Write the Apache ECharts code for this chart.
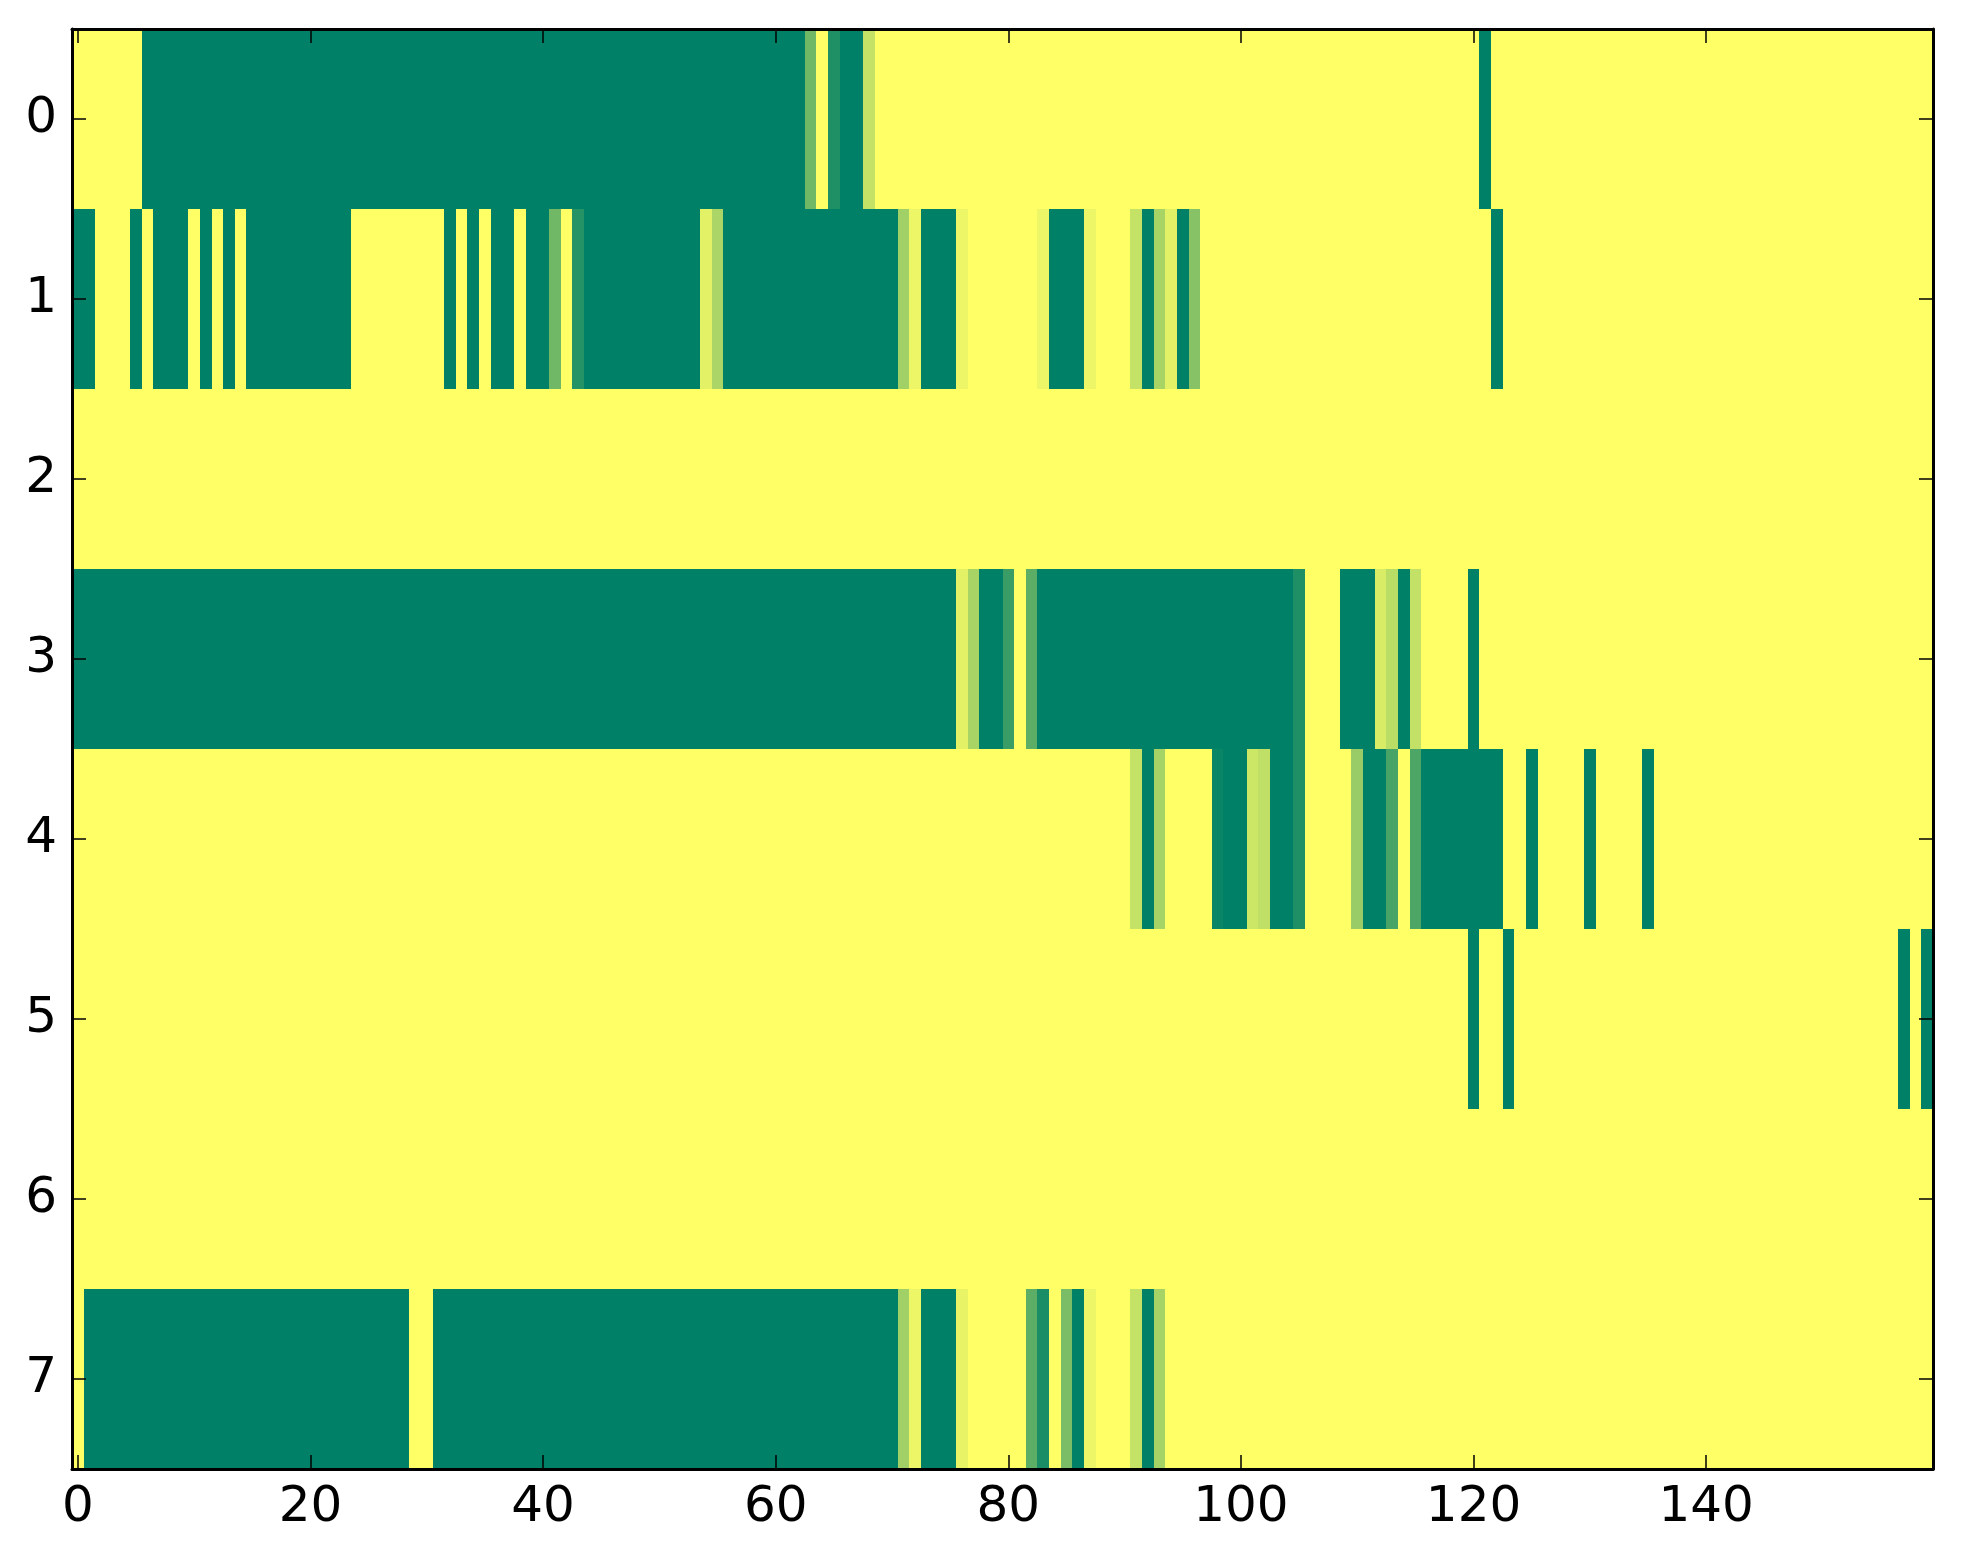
<!DOCTYPE html>
<html>
<head>
<meta charset="utf-8">
<script src="https://cdn.jsdelivr.net/npm/echarts@6/dist/echarts.min.js"></script>
<style>
  html, body { margin: 0; padding: 0; background: #ffffff; }
  #chart { width: 1963px; height: 1564px; }
</style>
</head>
<body>
<div id="chart"></div>
<script>
// Row labels (y) and x tick labels
var rowLabels = ['0', '1', '2', '3', '4', '5', '6', '7'];
var xTickLabels = [0, 20, 40, 60, 80, 100, 120, 140];

// Cell values per row (0 = yellow, 1 = green), 160 columns each
var row0 = [
  0,0,0,0,0,0,1,1,1,1,1,1,1,1,1,1,1,1,1,1,
  1,1,1,1,1,1,1,1,1,1,1,1,1,1,1,1,1,1,1,1,
  1,1,1,1,1,1,1,1,1,1,1,1,1,1,1,1,1,1,1,1,
  1,1,1,0.56,0,0.88,1,1,0.23,0,0,0,0,0,0,0,0,0,0,0,
  0,0,0,0,0,0,0,0,0,0,0,0,0,0,0,0,0,0,0,0,
  0,0,0,0,0,0,0,0,0,0,0,0,0,0,0,0,0,0,0,0,
  0,1,0,0,0,0,0,0,0,0,0,0,0,0,0,0,0,0,0,0,
  0,0,0,0,0,0,0,0,0,0,0,0,0,0,0,0,0,0,0,0
];
var row1 = [
  1,1,0,0,0,1,0,1,1,1,0,1,0,1,0,1,1,1,1,1,
  1,1,1,1,0,0,0,0,0,0,0,0,1,0,1,0,1,1,0,1,
  1,0.56,0,0.85,1,1,1,1,1,1,1,1,1,1,0.11,0.33,1,1,1,1,
  1,1,1,1,1,1,1,1,1,1,1,0.37,0.07,1,1,1,0.07,0,0,0,
  0,0,0,0.07,1,1,1,0.07,0,0,0,0.23,1,0.34,0.11,1,0.47,0,0,0,
  0,0,0,0,0,0,0,0,0,0,0,0,0,0,0,0,0,0,0,0,
  0,0,1,0,0,0,0,0,0,0,0,0,0,0,0,0,0,0,0,0,
  0,0,0,0,0,0,0,0,0,0,0,0,0,0,0,0,0,0,0,0
];
var row2 = [
  0,0,0,0,0,0,0,0,0,0,0,0,0,0,0,0,0,0,0,0,
  0,0,0,0,0,0,0,0,0,0,0,0,0,0,0,0,0,0,0,0,
  0,0,0,0,0,0,0,0,0,0,0,0,0,0,0,0,0,0,0,0,
  0,0,0,0,0,0,0,0,0,0,0,0,0,0,0,0,0,0,0,0,
  0,0,0,0,0,0,0,0,0,0,0,0,0,0,0,0,0,0,0,0,
  0,0,0,0,0,0,0,0,0,0,0,0,0,0,0,0,0,0,0,0,
  0,0,0,0,0,0,0,0,0,0,0,0,0,0,0,0,0,0,0,0,
  0,0,0,0,0,0,0,0,0,0,0,0,0,0,0,0,0,0,0,0
];
var row3 = [
  1,1,1,1,1,1,1,1,1,1,1,1,1,1,1,1,1,1,1,1,
  1,1,1,1,1,1,1,1,1,1,1,1,1,1,1,1,1,1,1,1,
  1,1,1,1,1,1,1,1,1,1,1,1,1,1,1,1,1,1,1,1,
  1,1,1,1,1,1,1,1,1,1,1,1,1,1,1,1,0.11,0.34,1,1,
  0.77,0,0.64,1,1,1,1,1,1,1,1,1,1,1,1,1,1,1,1,1,
  1,1,1,1,1,0.88,0,0,0,1,1,1,0.15,0.27,1,0.24,0,0,0,0,
  1,0,0,0,0,0,0,0,0,0,0,0,0,0,0,0,0,0,0,0,
  0,0,0,0,0,0,0,0,0,0,0,0,0,0,0,0,0,0,0,0
];
var row4 = [
  0,0,0,0,0,0,0,0,0,0,0,0,0,0,0,0,0,0,0,0,
  0,0,0,0,0,0,0,0,0,0,0,0,0,0,0,0,0,0,0,0,
  0,0,0,0,0,0,0,0,0,0,0,0,0,0,0,0,0,0,0,0,
  0,0,0,0,0,0,0,0,0,0,0,0,0,0,0,0,0,0,0,0,
  0,0,0,0,0,0,0,0,0,0,0,0.23,1,0.35,0,0,0,0,0.96,1,
  1,0.2,0.25,1,1,0.88,0,0,0,0,0.4,1,1,0.72,0,0.7,1,1,1,1,
  1,1,1,0,0,1,0,0,0,0,1,0,0,0,0,1,0,0,0,0,
  0,0,0,0,0,0,0,0,0,0,0,0,0,0,0,0,0,0,0,0
];
var row5 = [
  0,0,0,0,0,0,0,0,0,0,0,0,0,0,0,0,0,0,0,0,
  0,0,0,0,0,0,0,0,0,0,0,0,0,0,0,0,0,0,0,0,
  0,0,0,0,0,0,0,0,0,0,0,0,0,0,0,0,0,0,0,0,
  0,0,0,0,0,0,0,0,0,0,0,0,0,0,0,0,0,0,0,0,
  0,0,0,0,0,0,0,0,0,0,0,0,0,0,0,0,0,0,0,0,
  0,0,0,0,0,0,0,0,0,0,0,0,0,0,0,0,0,0,0,0,
  1,0,0,1,0,0,0,0,0,0,0,0,0,0,0,0,0,0,0,0,
  0,0,0,0,0,0,0,0,0,0,0,0,0,0,0,0,0,1,0,1
];
var row6 = [
  0,0,0,0,0,0,0,0,0,0,0,0,0,0,0,0,0,0,0,0,
  0,0,0,0,0,0,0,0,0,0,0,0,0,0,0,0,0,0,0,0,
  0,0,0,0,0,0,0,0,0,0,0,0,0,0,0,0,0,0,0,0,
  0,0,0,0,0,0,0,0,0,0,0,0,0,0,0,0,0,0,0,0,
  0,0,0,0,0,0,0,0,0,0,0,0,0,0,0,0,0,0,0,0,
  0,0,0,0,0,0,0,0,0,0,0,0,0,0,0,0,0,0,0,0,
  0,0,0,0,0,0,0,0,0,0,0,0,0,0,0,0,0,0,0,0,
  0,0,0,0,0,0,0,0,0,0,0,0,0,0,0,0,0,0,0,0
];
var row7 = [
  0,1,1,1,1,1,1,1,1,1,1,1,1,1,1,1,1,1,1,1,
  1,1,1,1,1,1,1,1,1,0,0,1,1,1,1,1,1,1,1,1,
  1,1,1,1,1,1,1,1,1,1,1,1,1,1,1,1,1,1,1,1,
  1,1,1,1,1,1,1,1,1,1,1,0.37,0.07,1,1,1,0.09,0,0,0,
  0,0,0.64,0.9,0,0.52,1,0.07,0,0,0,0.23,1,0.35,0,0,0,0,0,0,
  0,0,0,0,0,0,0,0,0,0,0,0,0,0,0,0,0,0,0,0,
  0,0,0,0,0,0,0,0,0,0,0,0,0,0,0,0,0,0,0,0,
  0,0,0,0,0,0,0,0,0,0,0,0,0,0,0,0,0,0,0,0
];

var rows = [row0, row1, row2, row3, row4, row5, row6, row7];
var xCats = row0.map(function (_, i) { return String(i); });

var heatData = [];
rows.forEach(function (r, y) {
  r.forEach(function (v, x) { heatData.push([x, y, v]); });
});

function isTick(i) { return xTickLabels.indexOf(i) !== -1; }

var FONT = 'DejaVu Sans';
var axisLineStyle = { color: '#000', width: 3 };
var tickStyle = { color: '#000', width: 1.5 };

// Draw each cell through the axes' scales, snapping edges to whole pixels
function renderCell(params, api) {
  var c = api.coord([api.value(0), api.value(1)]);
  var s = api.size([1, 1]);
  var x0 = Math.round(c[0] - s[0] / 2), x1 = Math.round(c[0] + s[0] / 2);
  var y0 = Math.round(c[1] - s[1] / 2), y1 = Math.round(c[1] + s[1] / 2);
  return {
    type: 'rect',
    shape: { x: x0, y: y0, width: x1 - x0, height: y1 - y0 },
    style: { fill: api.visual('color'), stroke: null }
  };
}

var chart = echarts.init(document.getElementById('chart'), null, { renderer: 'canvas' });
chart.setOption({
  backgroundColor: '#ffffff',
  animation: false,
  grid: { left: 72, top: 29, width: 1861, height: 1440, containLabel: false },
  xAxis: [
    {
      type: 'category', data: xCats, position: 'bottom', z: 10,
      axisLine: { show: true, lineStyle: axisLineStyle },
      axisTick: { show: true, inside: true, alignWithLabel: true, length: 14,
        interval: function (i) { return isTick(i); }, lineStyle: tickStyle },
      axisLabel: { show: true, interval: function (i) { return isTick(i); },
        fontFamily: FONT, fontSize: 50, color: '#000', margin: 14 },
      splitLine: { show: false }
    },
    {
      type: 'category', data: xCats, position: 'top', z: 10,
      axisLine: { show: true, lineStyle: axisLineStyle },
      axisTick: { show: true, inside: true, alignWithLabel: true, length: 14,
        interval: function (i) { return isTick(i); }, lineStyle: tickStyle },
      axisLabel: { show: false },
      splitLine: { show: false }
    }
  ],
  yAxis: [
    {
      type: 'category', data: rowLabels, inverse: true, position: 'left', z: 10,
      axisLine: { show: true, lineStyle: axisLineStyle },
      axisTick: { show: true, inside: true, alignWithLabel: true, length: 14,
        interval: 0, lineStyle: tickStyle },
      axisLabel: { show: true, interval: 0, fontFamily: FONT, fontSize: 50,
        color: '#000', margin: 15 },
      splitLine: { show: false }
    },
    {
      type: 'category', data: rowLabels, inverse: true, position: 'right', z: 10,
      axisLine: { show: true, lineStyle: axisLineStyle },
      axisTick: { show: true, inside: true, alignWithLabel: true, length: 14,
        interval: 0, lineStyle: tickStyle },
      axisLabel: { show: false },
      splitLine: { show: false }
    }
  ],
  visualMap: {
    type: 'continuous', show: false, min: 0, max: 1, dimension: 2,
    inRange: { color: ['#ffff66', '#008066'] }
  },
  series: [{
    type: 'custom', xAxisIndex: 0, yAxisIndex: 0, data: heatData,
    encode: { x: 0, y: 1 },
    renderItem: renderCell,
    silent: true
  }]
});
</script>
</body>
</html>
